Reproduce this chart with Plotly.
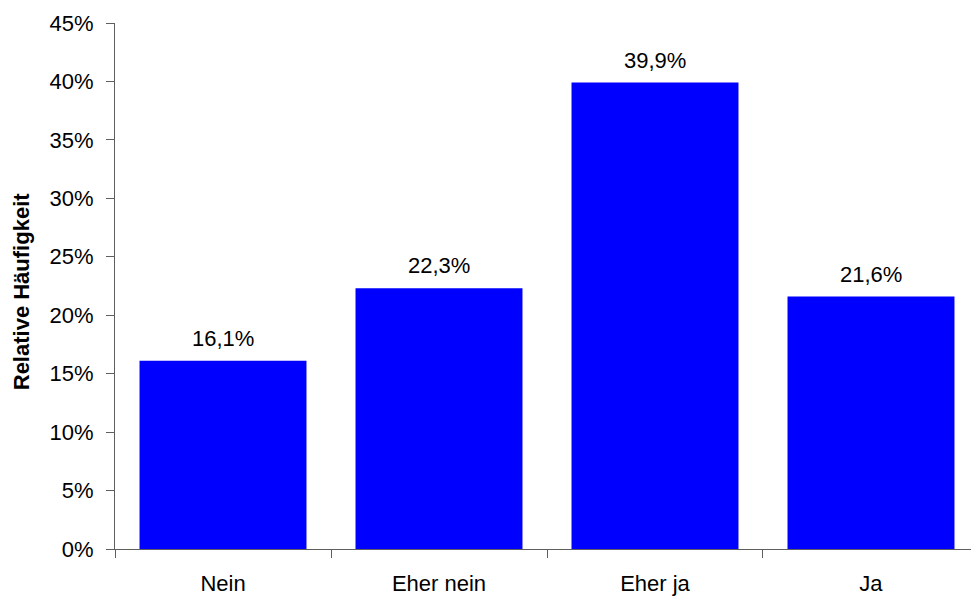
import plotly.graph_objects as go

# Antwortkategorien und relative Häufigkeiten (in %)
categories = ["Nein", "Eher nein", "Eher ja", "Ja"]
shares = [16.1, 22.3, 39.9, 21.6]
y_ticks = [0, 5, 10, 15, 20, 25, 30, 35, 40, 45]

FONT = "Liberation Sans, Arial, Helvetica, sans-serif"
AXIS_COLOR = "#5f5f5f"

fig = go.Figure(
    go.Bar(
        x=categories,
        y=shares,
        marker=dict(color="#0000FF", line=dict(width=0)),
        hoverinfo="skip",
    )
)

# Prozentangaben über den Balken
for cat, val in zip(categories, shares):
    fig.add_annotation(
        x=cat, y=val, xref="x", yref="y",
        text=f"{val:.1f}%".replace(".", ","),
        showarrow=False, yanchor="bottom", yshift=8,
        font=dict(family=FONT, size=22, color="#000000"),
    )

# Achsentitel
fig.add_annotation(
    xref="paper", yref="paper", x=0, y=0.49, xshift=-94,
    text="<b>Relative Häufigkeit</b>", textangle=-90,
    showarrow=False, xanchor="center", yanchor="middle",
    font=dict(family=FONT, size=22, color="#000000"),
)

fig.update_layout(
    width=971, height=597,
    margin=dict(l=115, r=0, t=23, b=48),
    paper_bgcolor="#ffffff", plot_bgcolor="#ffffff",
    bargap=0.227,
    separators=",.",
    showlegend=False,
    font=dict(family=FONT, size=22, color="#000000"),
)

fig.update_xaxes(
    type="category",
    range=[-0.5, 3.463],
    tickson="boundaries",
    ticks="outside", ticklen=8, tickwidth=1, tickcolor=AXIS_COLOR,
    showline=True, linecolor=AXIS_COLOR, linewidth=1,
    showgrid=False, zeroline=False,
    ticklabelstandoff=15,
    tickfont=dict(family=FONT, size=22, color="#000000"),
)

fig.update_yaxes(
    range=[0, 45],
    tickmode="array", tickvals=y_ticks,
    ticktext=[f"{t}%" for t in y_ticks],
    ticks="outside", ticklen=8, tickwidth=1, tickcolor=AXIS_COLOR,
    showline=True, linecolor=AXIS_COLOR, linewidth=1,
    showgrid=False, zeroline=False,
    ticklabelstandoff=8,
    tickfont=dict(family=FONT, size=22, color="#000000"),
)

fig.write_html("out.html")
